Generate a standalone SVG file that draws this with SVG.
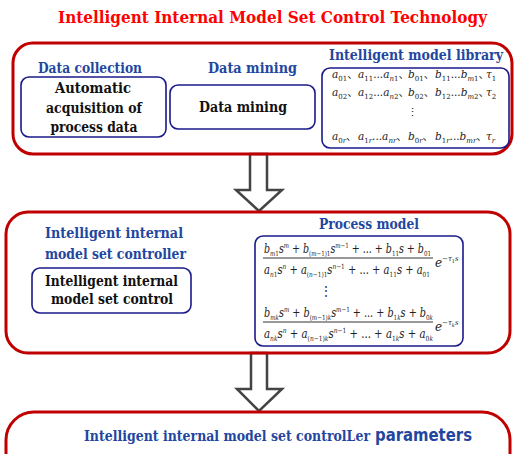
<svg xmlns="http://www.w3.org/2000/svg" width="514" height="454" viewBox="0 0 514 454">
<style>
.frame{fill:none;stroke:#c00000;stroke-width:3}
.box{fill:#fff;stroke:#1a1a8a;stroke-width:1.6}
.arrow{fill:#fff;stroke:#444;stroke-width:2.5;stroke-linejoin:miter}
.title{font-family:'DejaVu Serif',serif;font-weight:bold;font-size:17.5px;fill:#ff0000}
.hd{font-family:'DejaVu Serif',serif;font-weight:bold;font-size:15px;fill:#1f47a0}
.bt{font-family:'DejaVu Serif',serif;font-weight:bold;font-size:14.5px;fill:#111}
.m{font-family:'DejaVu Serif','Noto Sans CJK SC',serif;font-style:italic;font-size:12px;fill:#222}
.lib{font-family:'DejaVu Serif','Noto Sans CJK SC',serif;font-style:italic;font-size:10.5px;fill:#222}
.s{font-size:7px}
.u{font-style:normal}
.line{stroke:#333;stroke-width:1}
</style>
<rect width="514" height="454" fill="#fff"/>
<text class="title" x="272.5" y="23" text-anchor="middle" textLength="429" lengthAdjust="spacingAndGlyphs">Intelligent Internal Model Set Control Technology</text>

<g id="connectors">
<polygon class="arrow" points="250,154 267,154 267,190 282,190 259,211 236,190 250,190"/>
<polygon class="arrow" points="251,353 267,353 267,389 282,389 259,411 237,389 251,389"/>
</g>

<g id="stage1">
<rect class="frame" x="13" y="43" width="499" height="111" rx="20"/>
</g>
<g id="data-collection">
<text class="hd" x="90" y="73" text-anchor="middle" textLength="104" lengthAdjust="spacingAndGlyphs">Data collection</text>
<rect class="box" x="21" y="77" width="145" height="60" rx="8"/>
<text class="bt" x="93" y="93" text-anchor="middle" textLength="76" lengthAdjust="spacingAndGlyphs">Automatic</text>
<text class="bt" x="94" y="113" text-anchor="middle" textLength="96" lengthAdjust="spacingAndGlyphs">acquisition of</text>
<text class="bt" x="94" y="132" text-anchor="middle" textLength="87" lengthAdjust="spacingAndGlyphs">process data</text>
</g>
<g id="data-mining">
<text class="hd" x="252.5" y="73" text-anchor="middle" textLength="89" lengthAdjust="spacingAndGlyphs">Data mining</text>
<rect class="box" x="170" y="85" width="145" height="44" rx="8"/>
<text class="bt" x="243" y="112" text-anchor="middle" textLength="88" lengthAdjust="spacingAndGlyphs">Data mining</text>
</g>
<g id="model-library">
<text class="hd" x="416" y="60" text-anchor="middle" textLength="174" lengthAdjust="spacingAndGlyphs">Intelligent model library</text>
<rect class="box" x="322" y="68" width="187" height="80" rx="8"/>
<text class="lib" y="78"><tspan x="332">a<tspan class="s u" dy="3">01</tspan><tspan class="u" dy="-3">、</tspan></tspan><tspan x="358">a<tspan class="s u" dy="3">11</tspan><tspan class="u" dy="-3">...</tspan>a<tspan class="s" dy="3">n</tspan><tspan class="s u">1</tspan><tspan class="u" dy="-3">、</tspan></tspan><tspan x="408">b<tspan class="s u" dy="3">01</tspan><tspan class="u" dy="-3">、</tspan></tspan><tspan x="435">b<tspan class="s u" dy="3">11</tspan><tspan class="u" dy="-3">...</tspan>b<tspan class="s" dy="3">m</tspan><tspan class="s u">1</tspan><tspan class="u" dy="-3">、</tspan></tspan><tspan x="486">τ<tspan class="s u" dy="3">1</tspan></tspan></text>
<text class="lib" y="96"><tspan x="332">a<tspan class="s u" dy="3">02</tspan><tspan class="u" dy="-3">、</tspan></tspan><tspan x="358">a<tspan class="s u" dy="3">12</tspan><tspan class="u" dy="-3">...</tspan>a<tspan class="s" dy="3">n</tspan><tspan class="s u">2</tspan><tspan class="u" dy="-3">、</tspan></tspan><tspan x="408">b<tspan class="s u" dy="3">02</tspan><tspan class="u" dy="-3">、</tspan></tspan><tspan x="435">b<tspan class="s u" dy="3">12</tspan><tspan class="u" dy="-3">...</tspan>b<tspan class="s" dy="3">m</tspan><tspan class="s u">2</tspan><tspan class="u" dy="-3">、</tspan></tspan><tspan x="486">τ<tspan class="s u" dy="3">2</tspan></tspan></text>
<text class="lib u" x="412" y="116" text-anchor="middle">⋮</text>
<text class="lib" y="140"><tspan x="332">a<tspan class="s u" dy="3">0</tspan><tspan class="s">r</tspan><tspan class="u" dy="-3">、</tspan></tspan><tspan x="358">a<tspan class="s u" dy="3">1</tspan><tspan class="s">r</tspan><tspan class="u" dy="-3">...</tspan>a<tspan class="s" dy="3">nr</tspan><tspan class="u" dy="-3">、</tspan></tspan><tspan x="408">b<tspan class="s u" dy="3">0</tspan><tspan class="s">r</tspan><tspan class="u" dy="-3">、</tspan></tspan><tspan x="435">b<tspan class="s u" dy="3">1</tspan><tspan class="s">r</tspan><tspan class="u" dy="-3">...</tspan>b<tspan class="s" dy="3">mr</tspan><tspan class="u" dy="-3">、</tspan></tspan><tspan x="486">τ<tspan class="s" dy="3">r</tspan></tspan></text>
</g>

<g id="stage2">
<rect class="frame" x="6" y="212" width="504" height="141" rx="22"/>
</g>
<g id="controller">
<text class="hd" x="114" y="238" text-anchor="middle" textLength="138" lengthAdjust="spacingAndGlyphs">Intelligent internal</text>
<text class="hd" x="115.5" y="259" text-anchor="middle" textLength="141" lengthAdjust="spacingAndGlyphs">model set controller</text>
<rect class="box" x="32" y="268" width="159" height="45" rx="8"/>
<text class="bt" x="111.5" y="286" text-anchor="middle" textLength="133" lengthAdjust="spacingAndGlyphs">Intelligent internal</text>
<text class="bt" x="112" y="304" text-anchor="middle" textLength="122" lengthAdjust="spacingAndGlyphs">model set control</text>
</g>
<g id="process-model">
<text class="hd" x="369" y="229" text-anchor="middle" textLength="100" lengthAdjust="spacingAndGlyphs">Process model</text>
<rect class="box" x="255" y="236" width="208" height="110" rx="8"/>
<text class="m" x="264" y="253" textLength="167" lengthAdjust="spacingAndGlyphs">b<tspan class="s" dy="3">m</tspan><tspan class="s u">1</tspan><tspan dy="-3">s</tspan><tspan class="s" dy="-5">m</tspan><tspan class="u" dy="5"> + </tspan>b<tspan class="s u" dy="3">(</tspan><tspan class="s">m</tspan><tspan class="s u">−1)1</tspan><tspan dy="-3">s</tspan><tspan class="s" dy="-5">m</tspan><tspan class="s u">−1</tspan><tspan class="u" dy="5"> + ... + </tspan>b<tspan class="s u" dy="3">11</tspan><tspan dy="-3">s</tspan><tspan class="u"> + </tspan>b<tspan class="s u" dy="3">01</tspan></text>
<line class="line" x1="263" y1="258" x2="433" y2="258"/>
<text class="m" x="264" y="274" textLength="166" lengthAdjust="spacingAndGlyphs">a<tspan class="s" dy="3">n</tspan><tspan class="s u">1</tspan><tspan dy="-3">s</tspan><tspan class="s" dy="-5">n</tspan><tspan class="u" dy="5"> + </tspan>a<tspan class="s u" dy="3">(</tspan><tspan class="s">n</tspan><tspan class="s u">−1)1</tspan><tspan dy="-3">s</tspan><tspan class="s" dy="-5">n</tspan><tspan class="s u">−1</tspan><tspan class="u" dy="5"> + ... + </tspan>a<tspan class="s u" dy="3">11</tspan><tspan dy="-3">s</tspan><tspan class="u"> + </tspan>a<tspan class="s u" dy="3">01</tspan></text>
<text class="m" x="435" y="267">e<tspan class="s" dy="-6">−τ</tspan><tspan class="s u" style="font-size:5px" dy="2">1</tspan><tspan class="s" dy="-2">s</tspan></text>
<text class="m u" x="326" y="295" text-anchor="middle">⋮</text>
<text class="m" x="264" y="317" textLength="169" lengthAdjust="spacingAndGlyphs">b<tspan class="s" dy="3">mk</tspan><tspan dy="-3">s</tspan><tspan class="s" dy="-5">m</tspan><tspan class="u" dy="5"> + </tspan>b<tspan class="s u" dy="3">(</tspan><tspan class="s">m</tspan><tspan class="s u">−1)</tspan><tspan class="s">k</tspan><tspan dy="-3">s</tspan><tspan class="s" dy="-5">m</tspan><tspan class="s u">−1</tspan><tspan class="u" dy="5"> + ... + </tspan>b<tspan class="s u" dy="3">1</tspan><tspan class="s">k</tspan><tspan dy="-3">s</tspan><tspan class="u"> + </tspan>b<tspan class="s u" dy="3">0</tspan><tspan class="s">k</tspan></text>
<line class="line" x1="263" y1="322" x2="433" y2="322"/>
<text class="m" x="264" y="338" textLength="169" lengthAdjust="spacingAndGlyphs">a<tspan class="s" dy="3">nk</tspan><tspan dy="-3">s</tspan><tspan class="s" dy="-5">n</tspan><tspan class="u" dy="5"> + </tspan>a<tspan class="s u" dy="3">(</tspan><tspan class="s">n</tspan><tspan class="s u">−1)</tspan><tspan class="s">k</tspan><tspan dy="-3">s</tspan><tspan class="s" dy="-5">n</tspan><tspan class="s u">−1</tspan><tspan class="u" dy="5"> + ... + </tspan>a<tspan class="s u" dy="3">1</tspan><tspan class="s">k</tspan><tspan dy="-3">s</tspan><tspan class="u"> + </tspan>a<tspan class="s u" dy="3">0</tspan><tspan class="s">k</tspan></text>
<text class="m" x="435" y="331">e<tspan class="s" dy="-6">−τ</tspan><tspan class="s" style="font-size:5px" dy="2">k</tspan><tspan class="s" dy="-2">s</tspan></text>
</g>

<g id="stage3">
<rect class="frame" x="6" y="412" width="504" height="70" rx="28"/>
<text class="hd" x="84" y="441" textLength="286" lengthAdjust="spacingAndGlyphs">Intelligent internal model set controlLer</text>
<text x="375" y="441" textLength="97" lengthAdjust="spacingAndGlyphs" style="font-family:'DejaVu Sans',sans-serif;font-weight:bold;font-size:18px;fill:#1f47a0">parameters</text>
</g>
</svg>
